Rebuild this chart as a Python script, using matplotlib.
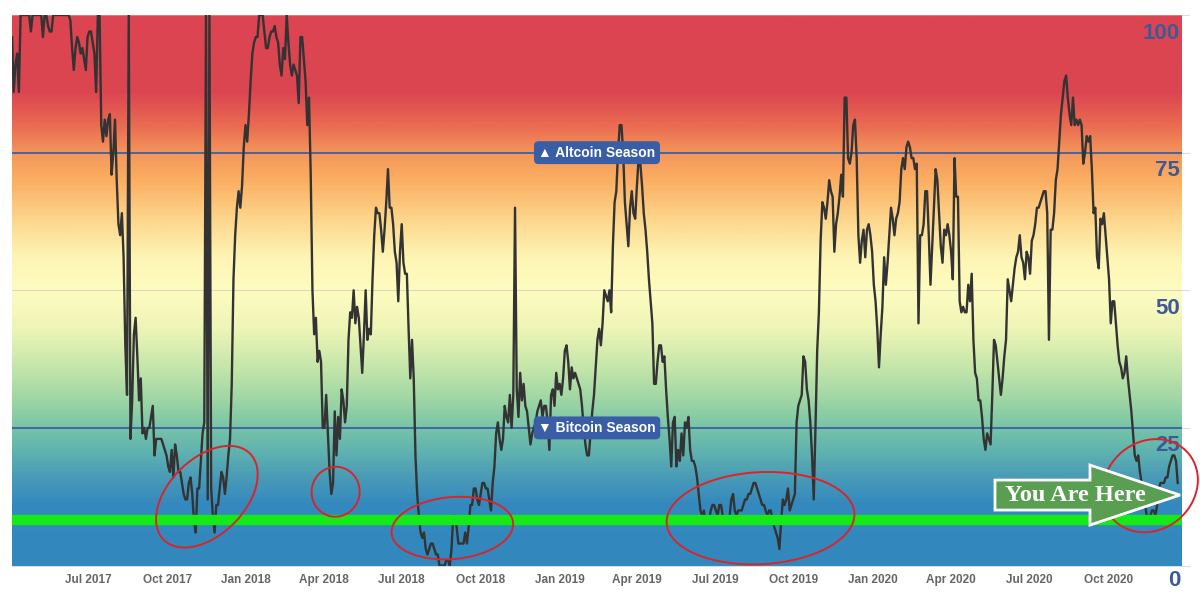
import pandas as pd
import matplotlib
matplotlib.use('Agg')
import matplotlib.pyplot as plt
import matplotlib.dates as mdates
from matplotlib.colors import LinearSegmentedColormap
from matplotlib.patches import Ellipse, FancyArrow
from matplotlib.transforms import IdentityTransform, offset_copy, blended_transform_factory
import numpy as np

plt.rcParams['font.family'] = ['Liberation Sans', 'DejaVu Sans']

# altcoin season index, one reading every 2 days from start_date
start_date = '2017-04-03'
end_date = '2020-12-26'
season_index = [
    96, 86, 91, 93, 86, 100, 100, 100, 100, 100,
    100, 97, 100, 100, 100, 100, 100, 100, 96, 100,
    100, 98, 97, 97, 100, 100, 100, 100, 100, 100,
    100, 100, 100, 100, 99, 94, 90, 94, 96, 95,
    93, 94, 92, 90, 96, 97, 97, 95, 93, 86,
    100, 100, 80, 77, 81, 78, 81, 82, 71, 75,
    81, 70, 62, 60, 64, 56, 40, 31, 100, 23,
    30, 42, 45, 38, 30, 34, 24, 25, 23, 25,
    25, 27, 29, 20, 23, 23, 23, 23, 22, 21,
    20, 18, 17, 21, 16, 22, 20, 17, 17, 15,
    13, 12, 12, 15, 16, 13, 8, 6, 14, 14,
    19, 24, 26, 100, 12, 100, 14, 9, 6, 11,
    11, 14, 17, 16, 13, 16, 20, 23, 33, 52,
    60, 65, 68, 65, 69, 76, 80,
    77, 82, 88, 93, 95, 96, 96, 100, 100, 100,
    97, 94, 94, 96, 97, 97, 98, 96, 95, 91,
    89, 94, 92, 100, 95, 91, 89, 91, 90, 89,
    84, 96, 96, 92, 88, 80, 85, 71, 50, 42,
    45, 37, 39, 37, 25, 25, 31, 24, 17, 13,
    15, 28, 20, 27, 23, 32, 30, 26, 29, 41,
    46, 45, 50, 44, 47, 45, 40, 35, 42, 50,
    41, 43, 42, 52, 60, 65, 64, 64, 61, 57,
    61, 66, 72, 65, 65, 62, 57, 55, 48, 57,
    62, 55, 53, 53, 43, 34, 41, 34, 20, 13,
    9, 6, 5, 6, 3, 2, 3, 4, 4, 3,
    2, 2, 0, 0, 0, 0, 1, 1, 0, 3,
    9, 9, 7, 4, 4, 4, 4, 6, 4, 7,
    11, 11, 14,
    14, 12, 11, 13, 15, 15, 14, 14, 12, 10,
    15, 18, 24, 26, 23, 21, 23, 29, 27, 26,
    31, 25, 31, 65, 32, 27, 35, 30, 33, 29,
    28, 25, 22, 24, 25, 26, 28, 29, 30, 27,
    29, 29, 26, 21, 31, 32, 29, 35, 32, 33,
    31, 34, 39, 40, 37, 32, 36, 34, 35, 34,
    33, 32, 29, 25, 22, 20, 20, 24, 28, 31,
    36, 41, 43, 40, 44, 50, 49, 48, 50, 46,
    58, 66, 68, 75, 80, 80, 75, 66, 62, 58,
    65, 68, 64, 63, 69, 74, 73, 69, 64, 61,
    57, 52, 48, 44, 33, 33, 37, 40, 40, 37,
    38, 32, 27, 23, 18, 26, 27, 18, 21, 19,
    24, 20, 26, 25, 27, 21, 19, 19, 18, 16,
    13, 10, 9, 10,
    8, 8, 8, 10, 11, 11, 10, 9, 11, 11,
    9, 9, 8, 8, 9, 12, 13, 10, 9, 10,
    10, 10, 11, 12, 12, 13, 13, 14, 15, 15,
    14, 13, 12, 11, 11, 10, 9, 10, 10, 8,
    7, 6, 5, 3, 8, 12, 11, 12, 14, 10,
    11, 12, 13, 26, 29, 30, 31, 38, 37, 32,
    30, 26, 20, 12, 25, 39, 46, 59, 66, 65,
    63, 66, 70, 68, 67, 57, 62, 64, 67, 71,
    67, 85, 85, 74, 73, 75, 80, 81, 74, 60,
    55, 59, 61, 56, 61, 62, 60, 57, 51, 48,
    43, 36, 42, 47, 56, 51, 55, 60, 65, 63,
    60, 63, 64, 66, 72, 74, 72, 76, 77, 76,
    74, 74, 72, 73, 44, 60, 60, 62, 68, 68,
    60, 51, 58, 65,
    72, 70, 64, 58, 55, 61, 60, 62, 60, 57,
    52, 74, 67, 67, 48, 46, 47, 46, 46, 51,
    48, 53, 41, 35, 34, 30, 30, 27, 23, 21,
    24, 23, 22, 31, 41, 40, 37, 34, 31, 34,
    38, 41, 52, 50, 48, 51, 54, 56, 57, 60,
    56, 55, 52, 57, 56, 53, 59, 60, 62, 65,
    65, 66, 67, 68, 68, 64, 41, 61, 61, 64,
    70, 72, 77, 82, 85, 88, 89, 85, 82, 80,
    85, 80, 81, 80, 81, 80, 73, 75, 78, 77,
    78, 72, 64, 65, 56, 54, 63, 62, 64, 60,
    56, 52, 44, 48, 48, 44, 40, 37, 36, 34,
    35, 38, 34, 31, 28, 24, 20, 19, 20, 17,
    15, 13, 11, 9, 9, 9, 10, 10, 9, 11,
    14, 15, 15, 15, 16, 16, 18, 19, 20, 20,
    19, 15,
]
y_ticks = [0, 25, 50, 75, 100]
altcoin_level = 75
bitcoin_level = 25
support_level = 8.3
# hand drawn circles: centre date and value
circle_dates = ['2017-11-16', '2018-04-15', '2018-08-29', '2019-08-23', '2020-11-19']
circle_values = [12.5, 13.4, 6.8, 8.6, 14.5]
arrow_value = 12.8

circle_shapes = [(122, 76, 45), (50, 48, 80), (122, 62, 5), (188, 92, 3), (100, 88, 40)]

dates = pd.date_range(start_date, periods=len(season_index), freq='2D')

fig = plt.figure(figsize=(12, 5.98), dpi=100)
ax = fig.add_axes([0.01, 0.0543, 0.975, 0.9206])

x0 = mdates.date2num(pd.Timestamp(start_date))
x1 = mdates.date2num(pd.Timestamp(end_date))

stops = [(0.0, '#3288bd'), (0.11, '#3489bd'), (0.16, '#4a9bb7'), (0.20, '#5cb0b0'),
         (0.25, '#78c4a8'), (0.30, '#9ed6a4'), (0.36, '#c4e6aa'), (0.43, '#eef5b6'),
         (0.50, '#fefcc0'), (0.56, '#fdf5b4'), (0.63, '#fdd68c'), (0.70, '#fbaf63'),
         (0.75, '#f5975a'), (0.80, '#ea6c52'), (0.86, '#dc4650'), (1.0, '#db4450')]
cmap = LinearSegmentedColormap.from_list('season', stops)
grad = np.linspace(0, 1, 400).reshape(-1, 1)
ax.imshow(grad, extent=[x0, x1, 0, 100], origin='lower', aspect='auto', cmap=cmap, zorder=0)

for v in y_ticks:
    ax.axhline(v, xmin=0, xmax=1.006, color='#bbbbbb', lw=0.8, alpha=0.5, clip_on=False, zorder=1)
ax.axhline(altcoin_level, color='#3d60a3', lw=1.3, zorder=2)
ax.axhline(bitcoin_level, color='#3d60a3', lw=1.3, zorder=2)

ax.plot(dates, season_index, color='#333333', lw=1.7, zorder=3)

ax.set_xlim(x0, x1)
ax.set_ylim(0, 100)
for s in ax.spines.values():
    s.set_visible(False)
ax.set_yticks([])
ax.xaxis.set_major_locator(mdates.MonthLocator(bymonth=[1, 4, 7, 10]))
ax.xaxis.set_major_formatter(mdates.DateFormatter('%b %Y'))
ax.tick_params(axis='x', length=0, pad=6, labelsize=8.5, labelcolor='#666666')
for lb in ax.get_xticklabels():
    lb.set_fontweight('bold')

blend = blended_transform_factory(ax.transAxes, ax.transData)
for v in y_ticks:
    dy = -15 if v == 0 else -18
    ax.text(0.9985, v, str(v), transform=offset_copy(blend, fig=fig, y=dy, units='dots'),
            ha='right', va='center', fontsize=16, fontweight='bold', color='#3d5a98', zorder=2)

box = dict(boxstyle='round,pad=0.32', fc='#3a5ea5', ec='none')
ax.text(0.5, altcoin_level, '▲ Altcoin Season', transform=blend, ha='center', va='center',
        color='white', fontsize=10, fontweight='bold', bbox=box, zorder=5)
ax.text(0.5, bitcoin_level, '▼ Bitcoin Season', transform=blend, ha='center', va='center',
        color='white', fontsize=10, fontweight='bold', bbox=box, zorder=5)

# thick green line
ax.axhline(support_level, xmin=0.003, xmax=1.0, color='#16ea16', lw=7.5, zorder=4)

# red circles
for d, v, (w, h, a) in zip(circle_dates, circle_values, circle_shapes):
    cx, cy = ax.transData.transform((mdates.date2num(pd.Timestamp(d)), v))
    fig.patches.append(Ellipse((cx, cy), w, h, angle=a, transform=IdentityTransform(),
                               fill=False, ec='#d9252a', lw=1.4, zorder=6))

# "You Are Here" arrow
tx, ty = ax.transData.transform((x1, arrow_value))
tx -= 2
arrow = FancyArrow(tx - 185, ty, 185, 0, width=30, head_width=60, head_length=90,
                   length_includes_head=True, fc='#5a9e52', ec='white', lw=2,
                   transform=IdentityTransform(), zorder=7)
fig.patches.append(arrow)
fig.text(tx - 105, ty, 'You Are Here', transform=IdentityTransform(), ha='center', va='center',
         color='white', fontsize=17.5, fontweight='bold', family=['Liberation Serif', 'DejaVu Serif'],
         zorder=8)

fig.savefig('out.png', dpi=100)
